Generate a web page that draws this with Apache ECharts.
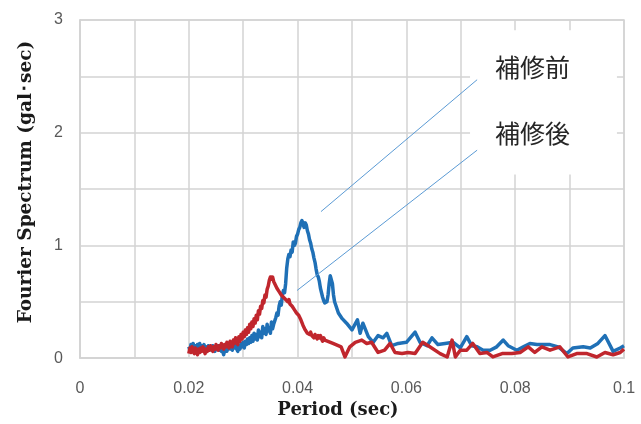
<!DOCTYPE html>
<html>
<head>
<meta charset="utf-8">
<script src="https://cdn.jsdelivr.net/npm/echarts@6/dist/echarts.min.js"></script>
<style>
  html, body { margin: 0; padding: 0; background: #fff; }
  #chart { width: 641px; height: 424px; }
</style>
</head>
<body>
<div id="chart"></div>
<script>
// Fourier spectrum before / after repair: [period (sec), amplitude (gal·sec)]
const beforeRepair = [
  [0.0200,0.10],[0.0202,0.07],[0.0204,0.12],[0.0206,0.08],[0.0208,0.13],[0.0210,0.09],
  [0.0212,0.11],[0.0214,0.07],[0.0216,0.12],[0.0218,0.10],[0.0220,0.13],[0.0222,0.08],
  [0.0224,0.11],[0.0226,0.09],[0.0228,0.12],[0.0230,0.08],[0.0232,0.10],[0.0234,0.07],
  [0.0236,0.11],[0.0238,0.08],[0.0240,0.10],[0.0242,0.07],[0.0244,0.11],[0.0246,0.09],
  [0.0248,0.06],[0.0250,0.10],[0.0252,0.08],[0.0254,0.11],[0.0256,0.07],[0.0258,0.09],
  [0.0260,0.06],[0.0262,0.08],[0.0264,0.03],[0.0266,0.07],[0.0268,0.10],[0.0270,0.06],
  [0.0272,0.09],[0.0274,0.12],[0.0276,0.08],[0.0278,0.11],[0.0280,0.07],[0.0282,0.12],
  [0.0284,0.09],[0.0286,0.13],[0.0288,0.08],[0.0290,0.06],[0.0292,0.11],[0.0294,0.08],
  [0.0296,0.13],[0.0298,0.10],[0.0300,0.14],[0.0302,0.09],[0.0304,0.15],[0.0306,0.12],
  [0.0308,0.17],[0.0310,0.13],[0.0312,0.18],[0.0314,0.14],[0.0316,0.20],[0.0318,0.15],
  [0.0320,0.22],[0.0322,0.17],[0.0324,0.21],[0.0326,0.16],[0.0328,0.25],[0.0330,0.19],
  [0.0332,0.23],[0.0334,0.18],[0.0336,0.28],[0.0338,0.22],[0.0340,0.26],[0.0342,0.21],
  [0.0344,0.30],[0.0346,0.24],[0.0348,0.27],[0.0350,0.22],[0.0352,0.32],[0.0354,0.26],
  [0.0356,0.30],[0.0358,0.33],[0.0360,0.36],[0.0362,0.40],[0.0364,0.38],[0.0366,0.46],
  [0.0368,0.50],[0.0370,0.47],[0.0372,0.56],[0.0374,0.60],[0.0376,0.58],[0.0378,0.66],
  [0.0380,0.80],[0.0382,0.88],[0.0384,0.92],[0.0386,0.90],[0.0388,0.96],[0.0390,0.94],
  [0.0392,1.03],[0.0394,1.00],[0.0396,1.02],[0.0398,1.08],[0.0400,1.10],[0.0402,1.14],
  [0.0404,1.16],[0.0406,1.20],[0.0408,1.22],[0.0410,1.19],[0.0412,1.16],[0.0414,1.20],
  [0.0416,1.18],[0.0418,1.13],[0.0420,1.10],[0.0422,1.05],[0.0424,1.02],[0.0426,0.97],
  [0.0428,0.94],[0.0430,0.89],[0.0432,0.85],[0.0434,0.79],[0.0436,0.74],[0.0438,0.72],
  [0.0440,0.68],[0.0442,0.62],[0.0444,0.58],[0.0446,0.54],[0.0448,0.51],[0.0450,0.49],
  [0.0452,0.48],[0.0454,0.50],[0.0456,0.56],[0.0458,0.66],[0.0460,0.73],[0.0462,0.72],
  [0.0464,0.66],[0.0466,0.56],[0.0468,0.50],[0.0475,0.40],[0.0482,0.35],[0.0490,0.31],
  [0.0500,0.25],[0.0510,0.34],[0.0515,0.22],[0.0520,0.31],[0.0530,0.19],[0.0539,0.14],
  [0.0548,0.20],[0.0557,0.18],[0.0564,0.22],[0.0573,0.11],[0.0585,0.13],[0.0600,0.14],
  [0.0616,0.23],[0.0625,0.14],[0.0638,0.11],[0.0647,0.18],[0.0658,0.12],[0.0671,0.13],
  [0.0686,0.14],[0.0699,0.09],[0.0711,0.19],[0.0720,0.11],[0.0730,0.10],[0.0741,0.07],
  [0.0754,0.07],[0.0766,0.10],[0.0778,0.16],[0.0787,0.11],[0.0803,0.07],[0.0815,0.10],
  [0.0827,0.13],[0.0840,0.12],[0.0849,0.12],[0.0864,0.12],[0.0879,0.10],[0.0895,0.04],
  [0.0906,0.09],[0.0925,0.10],[0.0938,0.09],[0.0952,0.13],[0.0965,0.20],[0.0980,0.06],
  [0.0993,0.09],[0.1000,0.11]
];

const afterRepair = [
  [0.0200,0.04],[0.0202,0.09],[0.0204,0.05],[0.0206,0.10],[0.0208,0.06],[0.0210,0.04],
  [0.0212,0.09],[0.0214,0.06],[0.0216,0.03],[0.0218,0.08],[0.0220,0.05],[0.0222,0.09],
  [0.0224,0.06],[0.0226,0.10],[0.0228,0.07],[0.0230,0.04],[0.0232,0.08],[0.0234,0.06],
  [0.0236,0.10],[0.0238,0.07],[0.0240,0.11],[0.0242,0.08],[0.0244,0.06],[0.0246,0.10],
  [0.0248,0.08],[0.0250,0.12],[0.0252,0.09],[0.0254,0.07],[0.0256,0.11],[0.0258,0.09],
  [0.0260,0.13],[0.0262,0.10],[0.0264,0.08],[0.0266,0.12],[0.0268,0.10],[0.0270,0.14],
  [0.0272,0.11],[0.0274,0.09],[0.0276,0.15],[0.0278,0.12],[0.0280,0.10],[0.0282,0.16],
  [0.0284,0.13],[0.0286,0.18],[0.0288,0.14],[0.0290,0.12],[0.0292,0.19],[0.0294,0.15],
  [0.0296,0.21],[0.0298,0.17],[0.0300,0.23],[0.0302,0.19],[0.0304,0.25],[0.0306,0.21],
  [0.0308,0.27],[0.0310,0.23],[0.0312,0.30],[0.0314,0.26],[0.0316,0.32],[0.0318,0.28],
  [0.0320,0.35],[0.0322,0.31],[0.0324,0.38],[0.0326,0.34],[0.0328,0.42],[0.0330,0.39],
  [0.0332,0.46],[0.0334,0.44],[0.0336,0.51],[0.0338,0.49],[0.0340,0.56],[0.0342,0.54],
  [0.0344,0.61],[0.0346,0.64],[0.0348,0.69],[0.0350,0.72],[0.0352,0.70],[0.0354,0.72],
  [0.0356,0.68],[0.0358,0.67],[0.0360,0.64],[0.0362,0.62],[0.0364,0.63],[0.0366,0.59],
  [0.0368,0.60],[0.0370,0.56],[0.0372,0.57],[0.0374,0.54],[0.0376,0.55],[0.0378,0.52],
  [0.0380,0.53],[0.0382,0.50],[0.0384,0.52],[0.0386,0.48],[0.0388,0.49],[0.0390,0.46],
  [0.0392,0.47],[0.0394,0.43],[0.0396,0.44],[0.0398,0.40],[0.0400,0.41],[0.0402,0.38],
  [0.0404,0.37],[0.0406,0.34],[0.0408,0.33],[0.0410,0.29],[0.0412,0.28],[0.0414,0.25],
  [0.0416,0.26],[0.0418,0.22],[0.0420,0.23],[0.0422,0.21],[0.0424,0.23],[0.0426,0.20],
  [0.0428,0.21],[0.0430,0.18],[0.0432,0.21],[0.0434,0.19],[0.0436,0.17],[0.0438,0.20],
  [0.0440,0.18],[0.0442,0.20],[0.0444,0.17],[0.0446,0.15],[0.0448,0.18],[0.0450,0.16],
  [0.0465,0.13],[0.0480,0.10],[0.0487,0.01],[0.0496,0.10],[0.0506,0.14],[0.0518,0.16],
  [0.0527,0.13],[0.0536,0.14],[0.0548,0.05],[0.0560,0.07],[0.0570,0.13],[0.0579,0.05],
  [0.0592,0.04],[0.0603,0.05],[0.0616,0.04],[0.0630,0.14],[0.0643,0.10],[0.0662,0.04],
  [0.0675,0.01],[0.0684,0.16],[0.0690,0.01],[0.0699,0.07],[0.0711,0.07],[0.0722,0.13],
  [0.0735,0.04],[0.0748,0.05],[0.0759,0.01],[0.0776,0.04],[0.0794,0.04],[0.0809,0.05],
  [0.0824,0.10],[0.0836,0.05],[0.0849,0.10],[0.0864,0.07],[0.0882,0.10],[0.0897,0.01],
  [0.0913,0.04],[0.0932,0.04],[0.0950,0.01],[0.0965,0.05],[0.0980,0.03],[0.0993,0.05],
  [0.1000,0.08]
];

const seriesNames = ['補修前', '補修後'];
const xTickLabels = ['0', '0.02', '0.04', '0.06', '0.08', '0.1'];
const yTickLabels = ['0', '1', '2', '3'];

// leader lines (data coordinates) joining each curve to its label
const leaderBefore = [[0.0443, 1.30], [0.0730, 2.47]];
const leaderAfter  = [[0.0399, 0.60], [0.0730, 1.845]];
// label anchors (left edge, vertical centre) and the white panel behind them
const labelBefore = [0.0763, 2.58];
const labelAfter  = [0.0763, 1.995];
const labelPanel  = [[0.0717, 2.91], [0.0987, 1.63]];

const gridGray = '#d3d3d3';
const blue = '#1f70b6';
const red = '#c0262d';
const leaderColor = '#5b9bd5';
const titleFont = { fontFamily: 'DejaVu Serif', fontWeight: 'bold', fontSize: 18, color: '#1a1a1a' };
const tickFont = { fontFamily: 'Liberation Sans', fontSize: 16, color: '#595959' };

const chart = echarts.init(document.getElementById('chart'), null, { renderer: 'canvas' });

function xLabel(v) {
  const k = v / 0.02;
  const i = Math.round(k);
  return Math.abs(k - i) < 1e-6 ? (xTickLabels[i] || '') : '';
}
function yLabel(v) {
  const i = Math.round(v);
  return Math.abs(v - i) < 1e-6 ? (yTickLabels[i] || '') : '';
}

const leaderStyle = { color: leaderColor, width: 1, type: 'solid' };

chart.setOption({
  animation: false,
  backgroundColor: '#ffffff',
  grid: {
    left: 80, right: 17, top: 20, bottom: 64,
    show: true, borderColor: gridGray, borderWidth: 1.5
  },
  xAxis: {
    type: 'value', min: 0, max: 0.1, interval: 0.01,
    name: 'Period (sec)', nameLocation: 'middle', nameGap: 41,
    nameTextStyle: Object.assign({ padding: [0, 28, 0, 0] }, titleFont),
    axisLine: { show: true, lineStyle: { color: gridGray, width: 1.5 } },
    axisTick: { show: false },
    splitLine: { show: true, lineStyle: { color: gridGray, width: 1.5 } },
    axisLabel: Object.assign({ margin: 22, formatter: xLabel }, tickFont)
  },
  yAxis: {
    type: 'value', min: 0, max: 3, interval: 0.5,
    name: 'Fourier Spectrum (gal･sec)', nameLocation: 'middle', nameGap: 44, nameRotate: 90,
    nameTextStyle: Object.assign({ padding: [0, 0, 0, 14] }, titleFont, { fontSize: 18.5 }),
    axisLine: { show: true, lineStyle: { color: gridGray, width: 1.5 } },
    axisTick: { show: false },
    splitLine: { show: true, lineStyle: { color: gridGray, width: 1.5 } },
    axisLabel: Object.assign({ margin: 17, formatter: yLabel }, tickFont)
  },
  series: [
    {
      name: seriesNames[0], type: 'line', data: beforeRepair,
      showSymbol: false, symbol: 'none', z: 3,
      lineStyle: { color: blue, width: 3.5, join: 'round' },
      markLine: {
        silent: true, symbol: 'none', label: { show: false },
        lineStyle: leaderStyle,
        data: [[{ coord: leaderBefore[0] }, { coord: leaderBefore[1] }]]
      }
    },
    {
      name: seriesNames[1], type: 'line', data: afterRepair,
      showSymbol: false, symbol: 'none', z: 4,
      lineStyle: { color: red, width: 3.5, join: 'round' },
      markLine: {
        silent: true, symbol: 'none', label: { show: false },
        lineStyle: leaderStyle,
        data: [[{ coord: leaderAfter[0] }, { coord: leaderAfter[1] }]]
      }
    }
  ]
});

// labels for the two curves, placed from data coordinates
const p0 = chart.convertToPixel('grid', labelPanel[0]);
const p1 = chart.convertToPixel('grid', labelPanel[1]);
const lb = chart.convertToPixel('grid', labelBefore);
const la = chart.convertToPixel('grid', labelAfter);
const labelFont = { fontFamily: 'Noto Sans CJK JP', fontSize: 25, fill: '#262626', textVerticalAlign: 'middle' };

chart.setOption({
  graphic: [
    { type: 'rect', z: 1, shape: { x: p0[0], y: p0[1], width: p1[0] - p0[0], height: p1[1] - p0[1] }, style: { fill: '#ffffff' } },
    { type: 'text', z: 10, x: lb[0], y: lb[1], style: Object.assign({ text: seriesNames[0] }, labelFont) },
    { type: 'text', z: 10, x: la[0], y: la[1], style: Object.assign({ text: seriesNames[1] }, labelFont) }
  ]
});
</script>
</body>
</html>
